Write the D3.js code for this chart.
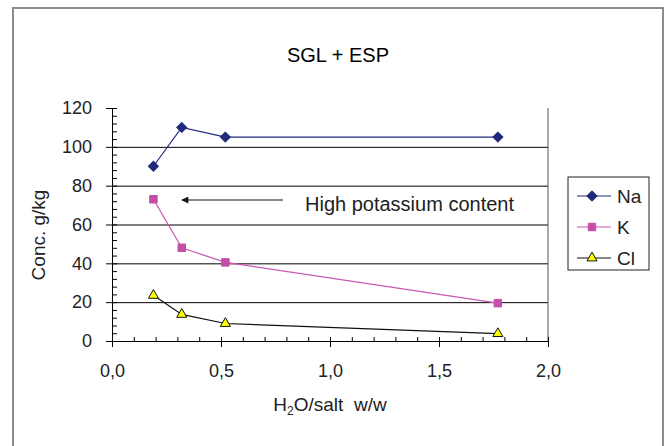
<!DOCTYPE html>
<html>
<head>
<meta charset="utf-8">
<script src="https://cdn.jsdelivr.net/npm/d3@7"></script>
<style>
    body { margin: 0; background: #fff; }
    svg { display: block; font-family: "Liberation Sans", Arial, sans-serif; }
</style>
</head>
<body>
<div id="chart"></div>
<script>
// Values
const xValues = [0.19, 0.32, 0.52, 1.77];   // H2O/salt w/w
const naValues = [90, 110, 105, 105];
const kValues = [73, 48, 40.5, 19.5];
const clValues = [23.5, 13.7, 9, 3.8];
const seriesNames = ['Na', 'K', 'Cl'];
const xTicks = [0, 0.5, 1, 1.5, 2];
const yTicks = [0, 20, 40, 60, 80, 100, 120];

const WIDTH = 669, HEIGHT = 446;
const svg = d3.select('#chart').append('svg')
    .attr('width', WIDTH)
    .attr('height', HEIGHT);

// outer chart frame (bottom edge runs off the picture)
svg.append('path')
    .attr('d', `M13,${HEIGHT + 5} V8 H663 V${HEIGHT + 5}`)
    .attr('fill', 'none')
    .attr('stroke', '#8c8c8c')
    .attr('stroke-width', 2);

svg.append('text')
    .attr('x', 338)
    .attr('y', 62)
    .attr('font-size', 20)
    .attr('text-anchor', 'middle')
    .text('SGL + ESP');

const x = d3.scaleLinear().domain([0, 2]).range([112, 548]);
const y = d3.scaleLinear().domain([0, 120]).range([341, 108]);

// Gridlines
svg.append('g')
    .attr('transform', `translate(${x(0)},0)`)
    .call(d3.axisLeft(y).tickValues(yTicks.slice(1, -1))
        .tickSize(x(0) - x(2)).tickFormat(''))
    .call(g => g.select('.domain').remove())
    .selectAll('line').attr('stroke', '#000');

// right edge of plot area
svg.append('line')
    .attr('x1', x(2)).attr('x2', x(2))
    .attr('y1', y(120)).attr('y2', y(0))
    .attr('stroke', '#555');

// y minor ticks (inward)
svg.append('g')
    .attr('transform', `translate(${x(0)},0)`)
    .call(d3.axisLeft(y).tickValues(d3.range(0, 121, 4))
        .tickSize(-5).tickSizeOuter(0).tickFormat(''))
    .call(g => g.select('.domain').remove());

// y major axis
svg.append('g')
    .attr('transform', `translate(${x(0)},0)`)
    .call(d3.axisLeft(y).tickValues(yTicks)
        .tickSize(6).tickSizeOuter(0).tickPadding(14).tickFormat(d3.format('d')))
    .call(g => g.selectAll('text').attr('font-size', 18).attr('fill', '#222'));

// x minor ticks (inward)
svg.append('g')
    .attr('transform', `translate(0,${y(0)})`)
    .call(d3.axisBottom(x).tickValues(d3.range(0, 2.01, 0.1))
        .tickSize(-4).tickSizeOuter(0).tickFormat(''))
    .call(g => g.select('.domain').remove());

// x major axis
svg.append('g')
    .attr('transform', `translate(0,${y(0)})`)
    .call(d3.axisBottom(x).tickValues(xTicks)
        .tickSize(6).tickSizeOuter(0).tickPadding(17)
        .tickFormat(d => d.toFixed(1).replace('.', ',')))
    .call(g => g.selectAll('text').attr('font-size', 18).attr('fill', '#222'))
    .call(g => g.selectAll('.tick line').attr('y1', -4));

// Axis titles
const xLabel = svg.append('text')
    .attr('x', 330)
    .attr('y', 411)
    .attr('font-size', 19)
    .attr('text-anchor', 'middle')
    .attr('fill', '#222');
xLabel.append('tspan').text('H');
xLabel.append('tspan').attr('font-size', 12).attr('dy', 4).text('2');
xLabel.append('tspan').attr('dy', -4).text('O/salt\u00a0\u00a0w/w');

svg.append('text')
    .attr('transform', 'translate(45,235) rotate(-90)')
    .attr('font-size', 19)
    .attr('text-anchor', 'middle')
    .attr('fill', '#222')
    .text('Conc. g/kg');

// Series
const series = [
    { name: seriesNames[0], values: naValues, line: '#262680', fill: '#1f2a7a', stroke: '#1f2a7a',
      symbol: d3.symbolSquare, size: 50, rotate: 45 },
    { name: seriesNames[1], values: kValues, line: '#c957b2', fill: '#c44fa6', stroke: '#c44fa6',
      symbol: d3.symbolSquare, size: 56, rotate: 0 },
    { name: seriesNames[2], values: clValues, line: '#111', fill: '#ffff00', stroke: '#111',
      symbol: d3.symbolTriangle, size: 44, rotate: 0 }
];

const line = d3.line()
    .x(d => x(d[0]))
    .y(d => y(d[1]));

series.forEach(s => {
    const pts = xValues.map((xv, i) => [xv, s.values[i]]);
    svg.append('path')
        .datum(pts)
        .attr('d', line)
        .attr('fill', 'none')
        .attr('stroke', s.line)
        .attr('stroke-width', 1.2);
    svg.append('g').selectAll('path')
        .data(pts)
        .enter()
        .append('path')
            .attr('d', d3.symbol(s.symbol, s.size))
            .attr('transform', d => `translate(${x(d[0])},${y(d[1])}) rotate(${s.rotate})`)
            .attr('fill', s.fill)
            .attr('stroke', s.stroke)
            .attr('stroke-width', 1);
});

// Annotation arrow (pointing left, toward the high K point)
svg.append('defs').append('marker')
    .attr('id', 'arrowhead')
    .attr('viewBox', '0 0 10 10')
    .attr('refX', 9).attr('refY', 5)
    .attr('markerWidth', 9).attr('markerHeight', 7)
    .attr('markerUnits', 'userSpaceOnUse')
    .attr('orient', 'auto')
  .append('path')
    .attr('d', 'M0,0 L10,5 L0,10 Z')
    .attr('fill', '#111');

svg.append('line')
    .attr('x1', 283).attr('x2', 182)
    .attr('y1', 200).attr('y2', 200)
    .attr('stroke', '#111')
    .attr('stroke-width', 1.2)
    .attr('marker-end', 'url(#arrowhead)');

svg.append('text')
    .attr('x', 305)
    .attr('y', 210.5)
    .attr('font-size', 20)
    .attr('fill', '#222')
    .text('High potassium content');

// Legend
const legend = svg.append('g').attr('transform', 'translate(568,177)');
legend.append('rect')
    .attr('width', 81)
    .attr('height', 93)
    .attr('fill', '#fff')
    .attr('stroke', '#222');

const rows = legend.selectAll('g.row')
    .data(series)
    .enter()
    .append('g')
        .attr('class', 'row')
        .attr('transform', (d, i) => `translate(0,${19 + i * 31})`);
rows.append('line')
    .attr('x1', 9).attr('x2', 43)
    .attr('stroke', d => d.line)
    .attr('stroke-width', 1.2);
rows.append('path')
    .attr('d', d => d3.symbol(d.symbol, d.size)())
    .attr('transform', d => `translate(24,0) rotate(${d.rotate})`)
    .attr('fill', d => d.fill)
    .attr('stroke', d => d.stroke);
rows.append('text')
    .attr('x', 49)
    .attr('y', 7)
    .attr('font-size', 19)
    .attr('fill', '#222')
    .text(d => d.name);
</script>
</body>
</html>
